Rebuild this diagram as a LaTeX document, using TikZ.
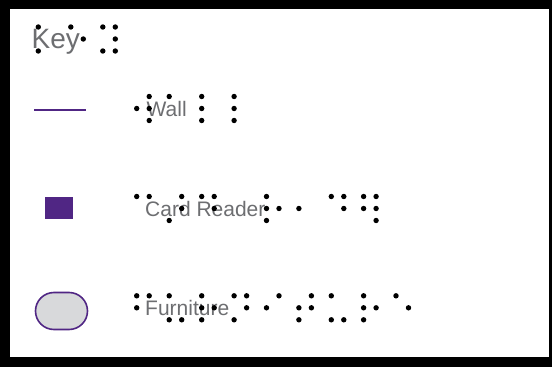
\documentclass[tikz,border=0pt]{standalone}
\usepackage{fontspec}
\setmainfont{Liberation Sans}
\definecolor{kpurple}{RGB}{80,38,132}
\definecolor{kgray}{RGB}{109,110,113}
\definecolor{kfill}{RGB}{216,217,219}
\newcommand\brcell[3]{\foreach \d in {#3}{\pgfmathtruncatemacro\cc{\d>3}\pgfmathtruncatemacro\rr{mod(\d-1,3)}\fill[black] (#1+12.5*\cc,#2+12*\rr) circle[radius=2.7pt];}}
\begin{document}
\begin{tikzpicture}[x=1pt,y=-1pt,
  lbl/.style={anchor=base west,inner sep=0pt,text=kgray,font=\fontsize{21}{21}\selectfont},
  keylbl/.style={anchor=base west,inner sep=0pt,text=kgray,font=\fontsize{28}{28}\selectfont},
  wallline/.style={draw=kpurple,line width=2.5pt},
  reader/.style={fill=kpurple,draw=none,minimum width=28pt,minimum height=22pt,inner sep=0pt},
  furn/.style={fill=kfill,draw=kpurple,line width=1.6pt,minimum width=52pt,minimum height=37pt,rounded corners=18.5pt,inner sep=0pt}]
\useasboundingbox (0,0) rectangle (552,367);
\fill[black] (0,0) rectangle (552,367);
\fill[white] (10,9) rectangle (549,357);
% labels
\node[keylbl] (key) at (31.5,48) {Key};
\node[lbl] (wall) at (146.5,116.3) {Wall};
\node[lbl] (card) at (145,216.3) {Card Reader};
\node[lbl] (furniture) at (145,315.7) {Furniture};
% symbols
\coordinate (w1) at (34,110);
\coordinate (w2) at (86,110);
\draw[wallline] (w1) -- (w2);
\node[reader] (cr) at (59,208) {};
\node[furn] (fu) at (61.5,311) {};
% braille
\brcell{38.3}{27}{1,3}
\brcell{70.8}{27}{1,5}
\brcell{102.8}{27}{1,3,4,5,6}
\brcell{136.7}{96.5}{2,4,5,6}
\brcell{169.2}{96.5}{1}
\brcell{201.7}{96.5}{1,2,3}
\brcell{234.1}{96.5}{1,2,3}
\brcell{136.7}{196.5}{1,4}
\brcell{169.2}{196.5}{3,4,5}
\brcell{201.7}{196.5}{1,4,5}
\brcell{266.5}{196.5}{1,2,3,5}
\brcell{298.9}{196.5}{2}
\brcell{331.3}{196.5}{1,4,5}
\brcell{363.6}{196.5}{1,2,4,5,6}
\brcell{136.7}{295.8}{1,2,4}
\brcell{169.2}{295.8}{1,3,6}
\brcell{201.7}{295.8}{1,2,3,5}
\brcell{234.1}{295.8}{1,3,4,5}
\brcell{266.5}{295.8}{2,4}
\brcell{298.9}{295.8}{2,3,4,5}
\brcell{331.3}{295.8}{1,3,6}
\brcell{363.6}{295.8}{1,2,3,5}
\brcell{396}{295.8}{1,5}
\end{tikzpicture}
\end{document}
